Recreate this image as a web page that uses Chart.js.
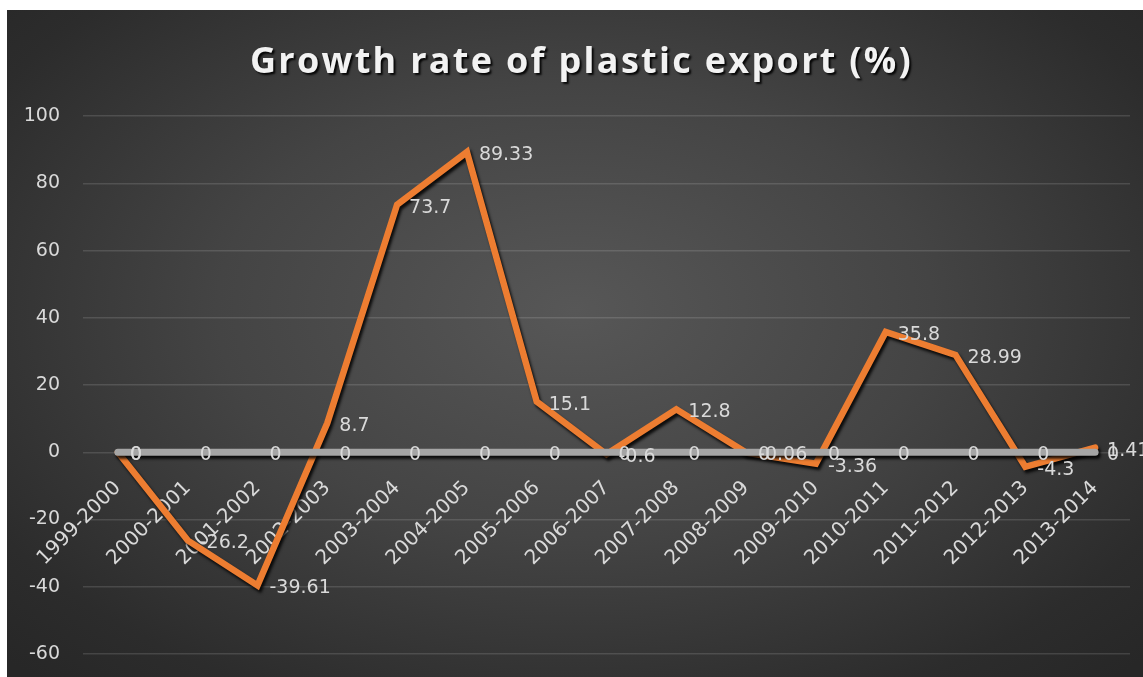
<!DOCTYPE html>
<html>
<head>
<meta charset="utf-8">
<script src="https://cdn.jsdelivr.net/npm/chart.js@4/dist/chart.umd.min.js"></script>
<style>
  html, body { margin: 0; padding: 0; background: #ffffff; }
  #wrap {
    position: absolute; left: 7px; top: 10px; width: 1136px; height: 667px;
    background: radial-gradient(ellipse 70% 75% at 50% 45%, #575757 0%, #444444 45%, #2c2c2c 85%, #272727 100%);
  }
  canvas { display: block; }
</style>
</head>
<body>
<div id="wrap"><canvas id="c" width="1136" height="667"></canvas></div>
<script>
const categories = ["1999-2000","2000-2001","2001-2002","2002-2003","2003-2004","2004-2005","2005-2006","2006-2007","2007-2008","2008-2009","2009-2010","2010-2011","2011-2012","2012-2013","2013-2014"];
const growthRate = [0, -26.2, -39.61, 8.7, 73.7, 89.33, 15.1, -0.6, 12.8, -0.06, -3.36, 35.8, 28.99, -4.3, 1.41];
const zeroSeries = [0,0,0,0,0,0,0,0,0,0,0,0,0,0,0];
const yTicks = [-60, -40, -20, 0, 20, 40, 60, 80, 100];

const labelFont = '19px "DejaVu Sans"';
const textColor = '#d9d9d9';

const shadowPlugin = {
  id: 'lineShadow',
  beforeDatasetDraw(chart, args) {
    const ctx = chart.ctx;
    ctx.save();
    ctx.shadowColor = 'rgba(0,0,0,0.85)';
    ctx.shadowBlur = 3;
    ctx.shadowOffsetX = 2;
    ctx.shadowOffsetY = 3;
  },
  afterDatasetDraw(chart) {
    chart.ctx.restore();
  }
};

const valueLabels = {
  id: 'valueLabels',
  afterDatasetsDraw(chart) {
    const ctx = chart.ctx;
    ctx.save();
    ctx.font = labelFont;
    ctx.fillStyle = textColor;
    ctx.textAlign = 'left';
    ctx.textBaseline = 'middle';
    for (let di = chart.data.datasets.length - 1; di >= 0; di--) {
      const ds = chart.data.datasets[di];
      const meta = chart.getDatasetMeta(di);
      meta.data.forEach((pt, i) => {
        ctx.fillText(String(ds.data[i]), pt.x + 12, pt.y + 3);
      });
    }
    ctx.restore();
  }
};

const titlePatch = {
  id: 'titlePatch',
  afterLayout(chart) {
    const t = chart.titleBlock;
    if (t && !t._patched) {
      const orig = t.draw;
      t.draw = function() {
        const ctx = chart.ctx;
        ctx.save();
        ctx.translate(13, 0);
        try { ctx.letterSpacing = '2.3px'; } catch (e) {}
        ctx.shadowColor = 'rgba(0,0,0,0.9)';
        ctx.shadowBlur = 2;
        ctx.shadowOffsetX = 2;
        ctx.shadowOffsetY = 2;
        orig.call(this);
        ctx.restore();
      };
      t._patched = true;
    }
  }
};

function zeroPad(scale) {
  scale.paddingTop = 0;
  scale.paddingBottom = 0;
}

new Chart(document.getElementById('c'), {
  type: 'line',
  data: {
    labels: categories,
    datasets: [
      {
        label: 'Series2',
        data: zeroSeries,
        borderColor: '#a5a5a5',
        borderWidth: 7,
        pointRadius: 0,
        tension: 0,
        borderCapStyle: 'round',
        borderJoinStyle: 'round'
      },
      {
        label: 'Growth rate',
        data: growthRate,
        borderColor: '#ed7d31',
        borderWidth: 6.5,
        pointRadius: 0,
        tension: 0,
        borderCapStyle: 'round',
        borderJoinStyle: 'miter'
      }
    ]
  },
  options: {
    responsive: false,
    animation: false,
    layout: { padding: { left: 0, right: 13, top: 0, bottom: 23 } },
    plugins: {
      legend: { display: false },
      tooltip: { enabled: false },
      title: {
        display: true,
        text: 'Growth rate of plastic export (%)',
        color: '#f2f2f2',
        font: { family: '"Open Sans"', size: 36, weight: 'bold', lineHeight: 1.2 },
        padding: { top: 31, bottom: 32 }
      }
    },
    scales: {
      x: {
        position: { y: 0 },
        offset: true,
        afterFit(scale) { scale.height = 0; zeroPad(scale); },
        grid: { display: false, drawTicks: false },
        border: { display: false },
        ticks: {
          color: textColor,
          font: { family: '"DejaVu Sans"', size: 20 },
          maxRotation: 45,
          minRotation: 45,
          autoSkip: false,
          padding: 24
        }
      },
      y: {
        min: -60,
        max: 100,
        afterBuildTicks(scale) { scale.ticks = yTicks.map(v => ({ value: v })); },
        afterFit(scale) { scale.width = 76; scale.paddingTop = 12; scale.paddingBottom = 12; },
        grid: { color: 'rgba(255,255,255,0.13)', lineWidth: 1.5, drawTicks: false },
        border: { display: false },
        ticks: {
          color: textColor,
          font: { family: '"DejaVu Sans"', size: 19 },
          padding: 23
        }
      }
    }
  },
  plugins: [shadowPlugin, valueLabels, titlePatch]
});
</script>
</body>
</html>
